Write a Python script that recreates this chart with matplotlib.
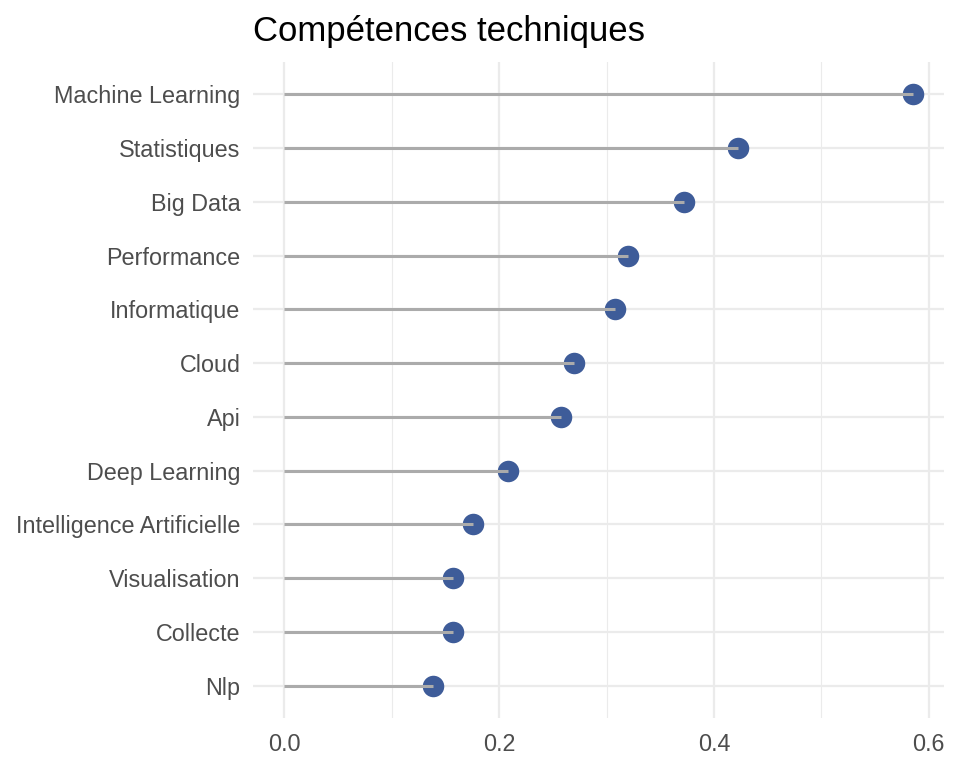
import matplotlib.pyplot as plt

skills = ['Machine Learning', 'Statistiques', 'Big Data', 'Performance',
          'Informatique', 'Cloud', 'Api', 'Deep Learning',
          'Intelligence Artificielle', 'Visualisation', 'Collecte', 'Nlp']
scores = [0.585, 0.422, 0.372, 0.320, 0.308, 0.270, 0.258, 0.208,
          0.176, 0.157, 0.157, 0.138]

plt.rcParams['font.family'] = ['Liberation Sans', 'DejaVu Sans']

fig = plt.figure(figsize=(9.6, 7.68), dpi=100)
ax = fig.add_axes([253 / 960, 1 - 718 / 768, (944 - 253) / 960, (718 - 62) / 768])

# first category on top
ypos = list(range(len(skills)))[::-1]

ax.scatter(scores, ypos, s=240, color='#3E5C99', zorder=3, linewidths=0)
ax.hlines(ypos, 0, scores, color='#ABABAB', linewidth=2.2, zorder=4)

xmax = max(scores)
ax.set_xlim(-0.05 * xmax, xmax * 1.05)
ax.set_ylim(-0.6, len(skills) - 0.4)

ax.set_yticks(ypos)
ax.set_yticklabels(skills)
ax.set_xticks([0, 0.2, 0.4, 0.6])
ax.set_xticklabels(['0.0', '0.2', '0.4', '0.6'])
ax.set_xticks([0.1, 0.3, 0.5], minor=True)

ax.grid(which='major', color='#EBEBEB', linewidth=1.6, zorder=0)
ax.grid(which='minor', axis='x', color='#EBEBEB', linewidth=0.8, zorder=0)
ax.set_axisbelow(True)
for s in ax.spines.values():
    s.set_visible(False)
ax.tick_params(which='both', length=0, labelsize=16.8, labelcolor='#4D4D4D')
ax.tick_params(axis='y', pad=9)
ax.tick_params(axis='x', pad=11)

fig.text(253 / 960, 1 - 41 / 768, 'Compétences techniques', fontsize=25,
         color='black', ha='left', va='baseline')

plt.savefig('out.png', dpi=100)
